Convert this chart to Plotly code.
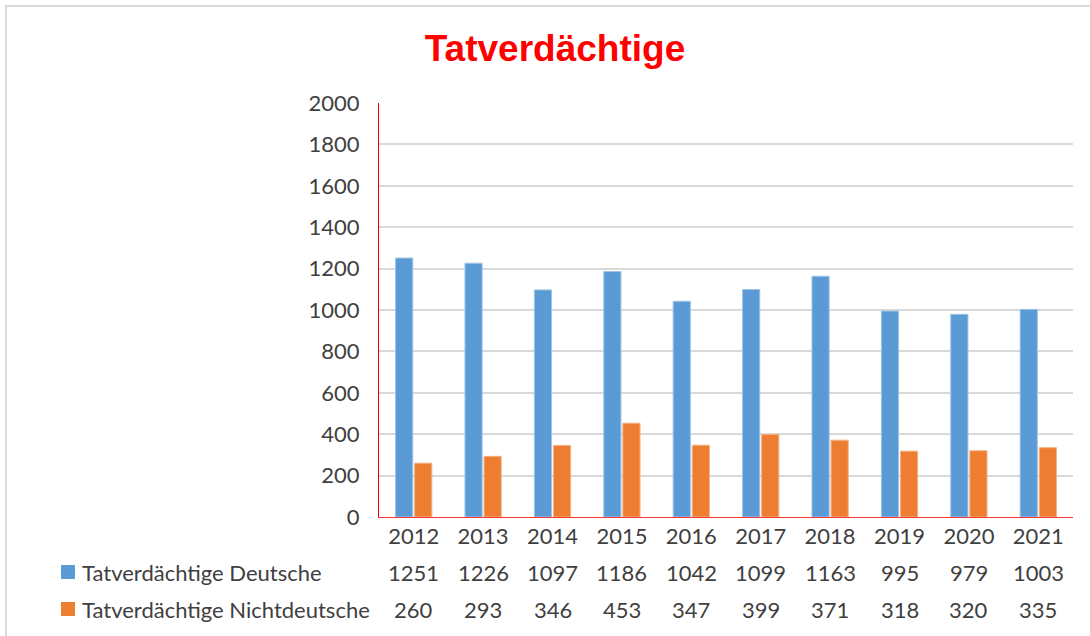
import plotly.graph_objects as go

years = ["2012", "2013", "2014", "2015", "2016", "2017", "2018", "2019", "2020", "2021"]
deutsche = [1251, 1226, 1097, 1186, 1042, 1099, 1163, 995, 979, 1003]
nichtdeutsche = [260, 293, 346, 453, 347, 399, 371, 318, 320, 335]
series_names = ["Tatverdächtige Deutsche", "Tatverdächtige Nichtdeutsche"]
series_values = [deutsche, nichtdeutsche]
colors = ["#5B9BD5", "#ED7D31"]
edge_colors = ["#9dc3e6", "#f4b183"]

FONT = "Lato"
FS = 22
TXT = "#404040"

fig = go.Figure()
for name, vals, c, ec in zip(series_names, series_values, colors, edge_colors):
    fig.add_trace(go.Bar(x=years, y=vals, name=name, marker=dict(color=c, line=dict(color=ec, width=1)),
                         showlegend=False))

W, H = 1090, 636
L, R, T, B = 379, 17, 103, 119
pw = W - L - R
ph = H - T - B

def px_x(p):
    return (p - L) / pw

def px_y(p):
    return (H - B - p) / ph

row_y = [572, 609]
annotations = []
shapes = []
for i, (name, vals, c) in enumerate(zip(series_names, series_values, colors)):
    yc = px_y(row_y[i])
    annotations.append(dict(x=px_x(80), y=yc, xref="paper", yref="paper", text=name, showarrow=False,
                            xanchor="left", yanchor="middle", font=dict(family=FONT, size=FS, color=TXT)))
    shapes.append(dict(type="rect", xref="paper", yref="paper", x0=px_x(61), x1=px_x(75),
                       y0=px_y(row_y[i] + 7), y1=px_y(row_y[i] - 7), fillcolor=c, line=dict(width=0)))
    for j, v in enumerate(vals):
        annotations.append(dict(x=j, y=yc, xref="x", yref="paper", text=str(v), showarrow=False,
                                xanchor="center", yanchor="middle", font=dict(family=FONT, size=FS, color=TXT)))

# outer chart border
shapes.append(dict(type="rect", xref="paper", yref="paper", x0=px_x(6), x1=px_x(1100), y0=px_y(660), y1=px_y(6),
                   line=dict(color="#d9d9d9", width=2), fillcolor="rgba(0,0,0,0)", layer="below"))

fig.update_layout(
    width=W, height=H,
    margin=dict(l=L, r=R, t=T, b=B, autoexpand=False),
    paper_bgcolor="white", plot_bgcolor="white",
    barmode="group", bargap=0.45, bargroupgap=0.1,
    title=dict(text="<b>Tatverdächtige</b>", x=555 / W, xanchor="center", y=1 - 48 / H, yanchor="middle",
               font=dict(family="Liberation Sans", size=37, color="#ff0000")),
    xaxis=dict(type="category", range=[-0.5, len(years) - 0.5], showline=True, linecolor="#ff3333",
               linewidth=1, ticks="", showgrid=False,
               tickfont=dict(family=FONT, size=FS, color=TXT)),
    yaxis=dict(range=[0, 2000], dtick=200, showline=True, linecolor="#e00000", linewidth=1,
               showgrid=True, gridcolor="#d9d9d9", gridwidth=2, zeroline=False, ticks="",
               ticklabelstandoff=14, tickfont=dict(family=FONT, size=FS, color=TXT)),
    annotations=annotations,
    shapes=shapes,
)

fig.write_html("out.html", config={"displayModeBar": False},
               post_script="document.body.style.margin='0';document.body.style.overflow='hidden';")
